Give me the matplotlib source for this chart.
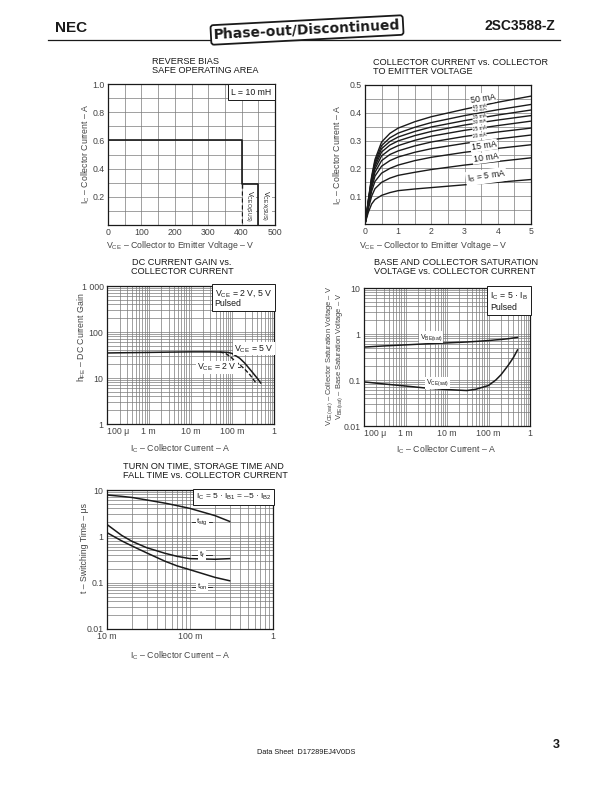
import numpy as np
import matplotlib
matplotlib.use("Agg")
import matplotlib.pyplot as plt
from matplotlib.ticker import FixedLocator, LogLocator, NullFormatter

plt.rcParams['font.family'] = ['Liberation Sans', 'DejaVu Sans']
plt.rcParams['mathtext.fontset'] = 'custom'
plt.rcParams['mathtext.rm'] = 'Liberation Sans'
plt.rcParams['mathtext.it'] = 'Liberation Sans'
plt.rcParams['mathtext.bf'] = 'Liberation Sans:bold'

# ---------------- data ----------------
# reverse bias SOA
soa_v = [0, 400, 400, 450, 450]
soa_i = [0.6, 0.6, 0.29, 0.29, 0.0]
soa_dash_v = [400, 400]
soa_dash_i = [0.29, 0.0]

# Ic vs Vce, one list per base current
vce = [0, 0.05, 0.1, 0.2, 0.3, 0.5, 0.75, 1, 1.5, 2, 3, 4, 5]
ic_5 = [0, 0.022, 0.042, 0.072, 0.088, 0.103, 0.113, 0.12, 0.126, 0.131, 0.141, 0.15, 0.16]
ic_10 = [0, 0.027, 0.055, 0.10, 0.127, 0.150, 0.165, 0.175, 0.186, 0.196, 0.212, 0.225, 0.238]
ic_15 = [0, 0.03, 0.062, 0.118, 0.153, 0.183, 0.200, 0.212, 0.228, 0.240, 0.258, 0.272, 0.285]
ic_20 = [0, 0.032, 0.068, 0.13, 0.172, 0.208, 0.228, 0.241, 0.258, 0.271, 0.290, 0.306, 0.320]
ic_25 = [0, 0.034, 0.072, 0.14, 0.186, 0.228, 0.25, 0.263, 0.281, 0.295, 0.315, 0.331, 0.345]
ic_30 = [0, 0.035, 0.076, 0.148, 0.198, 0.245, 0.268, 0.282, 0.301, 0.316, 0.337, 0.354, 0.370]
ic_35 = [0, 0.036, 0.079, 0.155, 0.208, 0.259, 0.284, 0.299, 0.318, 0.333, 0.356, 0.374, 0.390]
ic_40 = [0, 0.037, 0.082, 0.161, 0.216, 0.271, 0.297, 0.313, 0.333, 0.349, 0.372, 0.392, 0.410]
ic_45 = [0, 0.038, 0.084, 0.166, 0.224, 0.282, 0.31, 0.327, 0.348, 0.365, 0.390, 0.411, 0.430]
ic_50 = [0, 0.039, 0.086, 0.171, 0.232, 0.295, 0.326, 0.345, 0.368, 0.386, 0.413, 0.438, 0.460]
ib_curves = [ic_5, ic_10, ic_15, ic_20, ic_25, ic_30, ic_35, ic_40, ic_45, ic_50]
ib_labels = ['$\\mathrm{I_B}$ = 5 mA', '10 mA', '15 mA', '20 mA', '25 mA', '30 mA',
             '35 mA', '40 mA', '45 mA', '50 mA']
ib_lab_x = [3.65, 3.64, 3.58, 3.45, 3.45, 3.45, 3.45, 3.45, 3.45, 3.55]
ib_lab_y = [0.171, 0.239, 0.282, 0.318, 0.344, 0.368, 0.386, 0.413, 0.424, 0.452]

# hFE vs Ic
hfe_ic5 = [1e-4, 3e-4, 1e-3, 3e-3, 1e-2, 3e-2, 0.06, 0.08, 0.1, 0.15, 0.2, 0.3, 0.4, 0.48]
hfe_5v = [35, 35.5, 36, 36.5, 37, 37, 36.5, 36, 34, 27, 21, 13.5, 9.8, 7.8]
hfe_ic2 = [0.05, 0.07, 0.09, 0.12, 0.15, 0.2, 0.27, 0.33, 0.38]
hfe_2v = [37, 34, 29, 23, 19.5, 15.5, 11.5, 9, 7.5]

# saturation voltages
sat_ic = [1e-4, 3e-4, 1e-3, 3e-3, 1e-2, 3e-2, 0.05, 0.1, 0.15, 0.2, 0.3, 0.4, 0.5]
vbe_sat = [0.52, 0.55, 0.58, 0.61, 0.64, 0.67, 0.69, 0.72, 0.745, 0.76, 0.79, 0.82, 0.84]
vce_sat = [0.091, 0.082, 0.074, 0.067, 0.062, 0.059, 0.063, 0.076, 0.1, 0.13, 0.21, 0.31, 0.45]

# switching times
sw_ic = [0.01, 0.015, 0.02, 0.03, 0.05, 0.07, 0.1, 0.2, 0.3]
t_stg = [7.8, 7.3, 6.9, 6.1, 5.2, 4.6, 4.0, 2.8, 2.1]
t_f = [1.8, 1.05, 0.78, 0.57, 0.43, 0.37, 0.33, 0.32, 0.33]
t_on = [1.2, 0.8, 0.62, 0.44, 0.29, 0.23, 0.19, 0.13, 0.11]

# ---------------- figure ----------------
W, H = 612, 792
fig = plt.figure(figsize=(6.12, 7.92), dpi=100)
INK = '#1a1a1a'
GREY = '#444444'


def box(l, t, r, b):
    return fig.add_axes([l / W, 1 - b / H, (r - l) / W, (b - t) / H])


def ftext(x, y, s, **kw):
    kw.setdefault('color', INK)
    fig.text(x / W, 1 - y / H, s, **kw)


def style(ax):
    for s in ax.spines.values():
        s.set_linewidth(0.9)
        s.set_color(INK)
    ax.tick_params(which='both', length=0, labelsize=6.3, labelcolor=GREY, pad=2.5)
    ax.grid(True, which='both', color='#7a7a7a', lw=0.5)
    ax.set_axisbelow(True)


def logstyle(ax, axis):
    loc = LogLocator(base=10, subs=(2, 3, 4, 5, 6, 7, 8, 9), numticks=20)
    if axis == 'x':
        ax.xaxis.set_minor_locator(loc)
        ax.xaxis.set_minor_formatter(NullFormatter())
    else:
        ax.yaxis.set_minor_locator(loc)
        ax.yaxis.set_minor_formatter(NullFormatter())


white = dict(fc='white', ec='none', pad=0.6)
framed = dict(boxstyle='square,pad=0.35', fc='white', ec=INK, lw=0.7)
TS = 6.6

# header
ftext(55, 28, 'NEC', fontsize=11, fontweight='bold', va='center')
ftext(555, 26, '2SC3588-Z', fontsize=10, fontweight='bold', va='center', ha='right')
fig.add_artist(plt.Line2D([48 / W, 560 / W], [1 - 40 / H, 1 - 40 / H], color=INK, lw=0.9))
ftext(307, 30, 'Phase-out/Discontinued', fontsize=10, fontweight='bold',
      family='DejaVu Sans', ha='center', va='center', rotation=3,
      bbox=dict(boxstyle='round,pad=0.2', fc='white', ec=INK, lw=1.3))

# ---- chart 1 ----
ax1 = box(108, 84, 275, 225)
style(ax1)
ax1.set_xlim(0, 500)
ax1.set_ylim(0, 1.0)
ax1.set_xticks([0, 100, 200, 300, 400, 500])
ax1.set_xticks([50, 150, 250, 350, 450], minor=True)
ax1.set_yticks([0.2, 0.4, 0.6, 0.8, 1.0])
ax1.set_yticks([0.1, 0.3, 0.5, 0.7, 0.9], minor=True)
ax1.set_xticklabels(['0', '100', '200', '300', '400', '500'])
ax1.set_yticklabels(['0.2', '0.4', '0.6', '0.8', '1.0'])
ax1.plot(soa_v, soa_i, color=INK, lw=1.2)
ax1.plot(soa_dash_v, soa_dash_i, color=INK, lw=1.0, ls=(0, (3, 2)))
ax1.text(0.98, 0.975, 'L = 10 mH', transform=ax1.transAxes, ha='right', va='top',
         fontsize=6.3, color=INK, bbox=framed)
ax1.text(424, 0.135, '$\\mathrm{V_{CEO(SUS)}}$', rotation=-90, ha='center', va='center',
         fontsize=5.3, color=INK, bbox=white)
ax1.text(472, 0.135, '$\\mathrm{V_{CEX(SUS)}}$', rotation=-90, ha='center', va='center',
         fontsize=5.3, color=INK, bbox=white)
ftext(152, 66, 'REVERSE BIAS\nSAFE OPERATING AREA', fontsize=TS, va='center', linespacing=0.95)
ftext(180, 245, '$\\mathrm{V_{CE}}$ – Collector to Emitter Voltage – V', fontsize=6.3,
      ha='center', va='center', color=GREY)
ftext(86, 154, '$\\mathrm{I_C}$ – Collector Current – A', fontsize=6.3, rotation=90,
      ha='center', va='center', color=GREY)

# ---- chart 2 ----
ax2 = box(365, 85, 531, 224)
style(ax2)
ax2.set_xlim(0, 5)
ax2.set_ylim(0, 0.5)
ax2.set_xticks([0, 1, 2, 3, 4, 5])
ax2.set_xticks([0.5, 1.5, 2.5, 3.5, 4.5], minor=True)
ax2.set_yticks([0.1, 0.2, 0.3, 0.4, 0.5])
ax2.set_yticks([0.05, 0.15, 0.25, 0.35, 0.45], minor=True)
ax2.set_xticklabels(['0', '1', '2', '3', '4', '5'])
ax2.set_yticklabels(['0.1', '0.2', '0.3', '0.4', '0.5'])
for k, curve in enumerate(ib_curves):
    ax2.plot(vce, curve, color=INK, lw=1.0)
for k, lab in enumerate(ib_labels):
    small = 3 <= k <= 8
    ax2.text(ib_lab_x[k], ib_lab_y[k], lab, fontsize=3.4 if small else 6.3, rotation=8,
             ha='center', va='center', color=INK,
             bbox=dict(fc='white', ec='none', pad=0.2 if small else 0.6))
ftext(373, 67, 'COLLECTOR CURRENT vs. COLLECTOR\nTO EMITTER VOLTAGE', fontsize=TS,
      va='center', linespacing=0.95)
ftext(433, 245, '$\\mathrm{V_{CE}}$ – Collector to Emitter Voltage – V', fontsize=6.3,
      ha='center', va='center', color=GREY)
ftext(338, 155, '$\\mathrm{I_C}$ – Collector Current – A', fontsize=6.3, rotation=90,
      ha='center', va='center', color=GREY)

# ---- chart 3 ----
ax3 = box(107, 286, 274, 424)
style(ax3)
ax3.set_xscale('log')
ax3.set_yscale('log')
ax3.set_xlim(1e-4, 1)
ax3.set_ylim(1, 1000)
ax3.xaxis.set_major_locator(FixedLocator([1e-4, 1e-3, 1e-2, 1e-1, 1]))
ax3.yaxis.set_major_locator(FixedLocator([1, 10, 100, 1000]))
logstyle(ax3, 'x')
logstyle(ax3, 'y')
ax3.set_xticklabels(['100 μ', '1 m', '10 m', '100 m', '1'])
ax3.set_yticklabels(['1', '10', '100', '1 000'])
ax3.get_xticklabels()[0].set_ha('left')
ax3.plot(hfe_ic5, hfe_5v, color=INK, lw=1.1)
ax3.plot(hfe_ic2, hfe_2v, color=INK, lw=1.0, ls=(0, (3, 1.5)))
ax3.text(0.99, 0.985, '$\\mathrm{V_{CE}}$ = 2 V, 5 V\nPulsed', transform=ax3.transAxes,
         ha='right', va='top', fontsize=6.3, color=INK, linespacing=1.0,
         multialignment='left', bbox=framed)
ax3.text(0.33, 43, '$\\mathrm{V_{CE}}$ = 5 V', fontsize=6.3, ha='center', va='center',
         color=INK, bbox=white)
ax3.text(0.043, 17, '$\\mathrm{V_{CE}}$ = 2 V', fontsize=6.3, ha='center', va='center',
         color=INK, bbox=white)
ax3.plot([0.085, 0.15], [17, 17], color=INK, lw=0.6)
ax3.plot([0.017, 0.022], [17, 17], color=INK, lw=0.6)
ftext(182, 267, 'DC CURRENT GAIN vs.\nCOLLECTOR CURRENT', fontsize=TS, ha='center',
      va='center', linespacing=0.95, multialignment='center')
ftext(180, 449, '$\\mathrm{I_C}$ – Collector Current – A', fontsize=6.3,
      ha='center', va='center', color=GREY)
ftext(82, 337, '$\\mathrm{h_{FE}}$ – DC Current Gain', fontsize=6.3, rotation=90,
      ha='center', va='center', color=GREY)

# ---- chart 4 ----
ax4 = box(364, 288, 530, 426)
style(ax4)
ax4.set_xscale('log')
ax4.set_yscale('log')
ax4.set_xlim(1e-4, 1)
ax4.set_ylim(0.01, 10)
ax4.xaxis.set_major_locator(FixedLocator([1e-4, 1e-3, 1e-2, 1e-1, 1]))
ax4.yaxis.set_major_locator(FixedLocator([0.01, 0.1, 1, 10]))
logstyle(ax4, 'x')
logstyle(ax4, 'y')
ax4.set_xticklabels(['100 μ', '1 m', '10 m', '100 m', '1'])
ax4.set_yticklabels(['0.01', '0.1', '1', '10'])
ax4.get_xticklabels()[0].set_ha('left')
ax4.plot(sat_ic, vbe_sat, color=INK, lw=1.1)
ax4.plot(sat_ic, vce_sat, color=INK, lw=1.1)
ax4.text(0.99, 0.985, '$\\mathrm{I_C}$ = 5 · $\\mathrm{I_B}$\nPulsed', transform=ax4.transAxes,
         ha='right', va='top', fontsize=6.3, color=INK, linespacing=1.2,
         multialignment='left', bbox=framed)
ax4.text(0.0041, 0.85, '$\\mathrm{V_{BE(sat)}}$', fontsize=5.0, ha='center', va='center',
         color=INK, bbox=white)
ax4.text(0.006, 0.086, '$\\mathrm{V_{CE(sat)}}$', fontsize=5.0, ha='center', va='center',
         color=INK, bbox=white)
ftext(374, 267, 'BASE AND COLLECTOR SATURATION\nVOLTAGE vs. COLLECTOR CURRENT', fontsize=TS,
      va='center', linespacing=0.95)
ftext(446, 450, '$\\mathrm{I_C}$ – Collector Current – A', fontsize=6.3,
      ha='center', va='center', color=GREY)
ftext(330, 356, '$\\mathrm{V_{CE(sat)}}$ – Collector Saturation Voltage – V', fontsize=5.4,
      rotation=90, ha='center', va='center', color=GREY)
ftext(340, 356, '$\\mathrm{V_{BE(sat)}}$ – Base Saturation Voltage – V', fontsize=5.4,
      rotation=90, ha='center', va='center', color=GREY)

# ---- chart 5 ----
ax5 = box(107, 490, 273, 629)
style(ax5)
ax5.set_xscale('log')
ax5.set_yscale('log')
ax5.set_xlim(0.01, 1)
ax5.set_ylim(0.01, 10)
ax5.xaxis.set_major_locator(FixedLocator([0.01, 0.1, 1]))
ax5.yaxis.set_major_locator(FixedLocator([0.01, 0.1, 1, 10]))
logstyle(ax5, 'x')
logstyle(ax5, 'y')
ax5.set_xticklabels(['10 m', '100 m', '1'])
ax5.set_yticklabels(['0.01', '0.1', '1', '10'])
ax5.plot(sw_ic, t_stg, color=INK, lw=1.1)
ax5.plot(sw_ic, t_f, color=INK, lw=1.1)
ax5.plot(sw_ic, t_on, color=INK, lw=1.1)
ax5.text(0.99, 0.985, '$\\mathrm{I_C}$ = 5 · $\\mathrm{I_{B1}}$ = –5 · $\\mathrm{I_{B2}}$',
         transform=ax5.transAxes, ha='right', va='top', fontsize=6.0, color=INK, bbox=framed)
for lab, yy, x0, x1 in [('$\\mathrm{t_{stg}}$', 2.05, 0.105, 0.185),
                        ('$\\mathrm{t_f}$', 0.40, 0.105, 0.185),
                        ('$\\mathrm{t_{on}}$', 0.081, 0.105, 0.185)]:
    ax5.plot([x0, x1], [yy, yy], color=INK, lw=0.6)
    ax5.text(0.14, yy, lab, fontsize=5.8, ha='center', va='center', color=INK, bbox=white)
ftext(123, 471, 'TURN ON TIME, STORAGE TIME AND\nFALL TIME vs. COLLECTOR CURRENT',
      fontsize=TS, va='center', linespacing=0.95)
ftext(180, 656, '$\\mathrm{I_C}$ – Collector Current – A', fontsize=6.3,
      ha='center', va='center', color=GREY)
ftext(84, 548, 't – Switching Time – μs', fontsize=6.3, rotation=90,
      ha='center', va='center', color=GREY)

# footer
ftext(257, 753, 'Data Sheet  D17289EJ4V0DS', fontsize=5.3, va='center')
ftext(556, 745, '3', fontsize=9, fontweight='bold', va='center', ha='center')

fig.savefig('out.png', dpi=100)
